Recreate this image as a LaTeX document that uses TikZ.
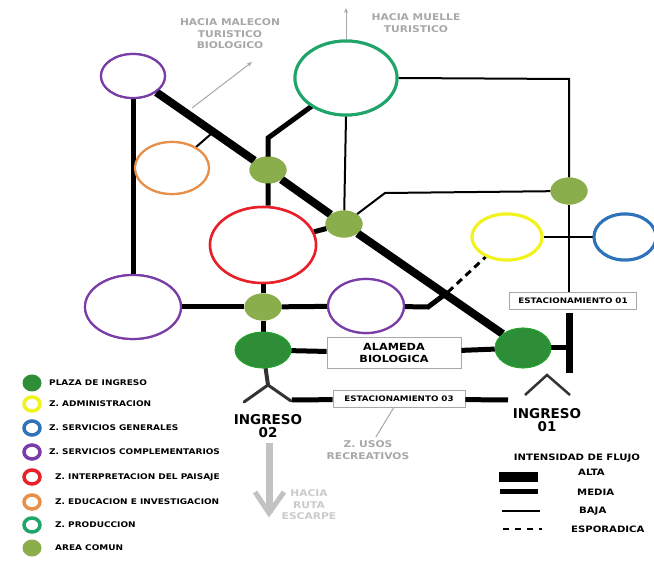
\documentclass[tikz,border=0pt]{standalone}
\usepackage{fontspec}
\setmainfont{DejaVu Sans}
\newfontfamily\lbl[FakeStretch=1.15]{DejaVu Sans}
\usetikzlibrary{arrows.meta,shapes.geometric}
\definecolor{cpurple}{HTML}{7A3DA8}
\definecolor{corange}{HTML}{E8904A}
\definecolor{cgreen}{HTML}{1FA46A}
\definecolor{cred}{HTML}{E8202A}
\definecolor{cyellow}{HTML}{F2F21C}
\definecolor{cblue}{HTML}{2E72B8}
\definecolor{cplaza}{HTML}{2E8E38}
\definecolor{ccomun}{HTML}{8AAE4C}
\definecolor{cgray}{HTML}{A8A8A8}
\definecolor{cdark}{HTML}{333333}
\tikzset{
  zone/.style={ellipse, draw, line width=2.5pt, fill=white, inner sep=0pt},
  plaza/.style={ellipse, fill=cplaza, draw=cplaza!70!green, line width=0.6pt, inner sep=0pt},
  comun/.style={ellipse, fill=ccomun, inner sep=0pt, minimum width=37pt, minimum height=27pt},
  alta/.style={line width=8pt},
  media/.style={line width=5pt},
  baja/.style={line width=2pt},
  espo/.style={line width=3pt, dash pattern=on 7pt off 5pt},
  gline/.style={draw=cgray, line width=1pt},
  boxlbl/.style={draw=cgray, line width=0.8pt, fill=white, font=\lbl\bfseries\fontsize{7.6}{9}\selectfont, inner sep=2pt},
  gtext/.style={text=cgray, font=\lbl\bfseries\fontsize{9.3}{11.5}\selectfont, align=center},
  ingtext/.style={font=\bfseries\fontsize{13.5}{15}\selectfont, align=center, text=black},
  legtext/.style={font=\lbl\bfseries\fontsize{7.8}{9}\selectfont, anchor=west, inner sep=0pt},
  rlegtext/.style={font=\lbl\bfseries\fontsize{8.8}{10}\selectfont, anchor=west, inner sep=0pt},
  legdot/.style={ellipse, inner sep=0pt, minimum width=19pt, minimum height=17pt},
}
\begin{document}
\begin{tikzpicture}[x=1pt,y=-1pt]
\useasboundingbox[fill=white] (0,0) rectangle (654,561);
% zones
\node[zone, draw=cpurple, line width=2.2pt, minimum width=64pt, minimum height=44pt] (pt) at (133,76) {};
\node[zone, draw=corange, line width=2.2pt, minimum width=74pt, minimum height=52pt] (or) at (172,168) {};
\node[zone, draw=cgreen, line width=3pt, minimum width=102pt, minimum height=74pt] (gr) at (346,78) {};
\node[zone, draw=cred, line width=2.5pt, minimum width=106pt, minimum height=76pt] (rd) at (263,245) {};
\node[zone, draw=cpurple, line width=2.2pt, minimum width=96pt, minimum height=64pt] (pl) at (133,307) {};
\node[zone, draw=cpurple, line width=2.2pt, minimum width=76pt, minimum height=54pt] (pm) at (366,306) {};
\node[zone, draw=cyellow, line width=3pt, minimum width=70pt, minimum height=46pt] (ye) at (507,237) {};
\node[zone, draw=cblue, line width=3pt, minimum width=62pt, minimum height=46pt] (bl) at (625,237) {};
% nodes
\node[comun] (a1) at (268,170) {};
\node[comun] (a2) at (344,224) {};
\node[comun] (a3) at (569,191) {};
\node[comun] (a4) at (263,307) {};
\node[plaza, minimum width=56pt, minimum height=36pt] (p1) at (263,350) {};
\node[plaza, minimum width=56pt, minimum height=40pt] (p2) at (523,348) {};
\node[boxlbl, font=\lbl\bfseries\fontsize{9.8}{11.5}\selectfont, align=center, minimum width=134pt, minimum height=31pt] (alam) at (394,353) {ALAMEDA\\BIOLOGICA};
\node[boxlbl, minimum width=132pt, minimum height=17pt] (e03) at (399,399) {ESTACIONAMIENTO 03};
\node[boxlbl, minimum width=127pt, minimum height=17pt] (e01) at (573,301) {ESTACIONAMIENTO 01};
\coordinate (c1) at (268,138);
\coordinate (c1a) at (312,106);
\coordinate (c2) at (385,193);
\coordinate (c3) at (569,79);
\coordinate (c4) at (428,307);
\coordinate (c5) at (448,292);
\coordinate (c6) at (569,313);
\coordinate (c7) at (569,373);
\coordinate (c8) at (268,385);
\coordinate (c9) at (244,402);
\coordinate (c10) at (291,401);
\coordinate (c11) at (292,400);
\coordinate (c12) at (508,400);
\coordinate (i1) at (547,375);
\coordinate (i1l) at (525,395);
\coordinate (i1r) at (570,395);
\coordinate (gm1) at (192,108);
\coordinate (gm2) at (252,62);
\coordinate (gu) at (346,8);
\coordinate (od) at (211,134);
\coordinate (rar1) at (269,443);
\coordinate (rar2) at (269,513);
% thin (baja) connectors
\draw[baja] (gr.east) -- (c3) -- (a3);
\draw[baja] (a3) -- (e01.north -| a3);
\draw[baja] (gr.south) -- (a2);
\draw[baja] (a2) -- (c2) -- (a3);
\draw[baja] (ye) -- (bl);
\draw[baja] (or) -- (od);
% media
\draw[media] (pt) -- (pl);
\draw[media] (c1a) -- (c1) -- (rd.north -| c1);
\draw[media] (rd) -- (a2);
\draw[media] (rd) -- (a4);
\draw[media] (a4) -- (p1);
\draw[media] (pl) -- (a4);
\draw[media] (a4) -- (pm);
\draw[media] (pm) -- (c4) -- (c5);
\draw[espo] (c5) -- (ye);
\draw[media] (p1) -- (alam);
\draw[media] (alam) -- (p2);
\draw[media] (p2) -- (c6 |- p2);
\draw[alta, line width=7pt] (c6) -- (c7);
\draw[media] (c11) -- (e03);
\draw[media] (e03) -- (c12);
% alta diagonal
\draw[alta] (pt) -- (a1) -- (a2) -- (p2);
% redraw nodes on top
\node[comun] at (a1) {};
\node[comun] at (a2) {};
\node[comun] at (a3) {};
\node[comun] at (a4) {};
\node[plaza, minimum width=56pt, minimum height=36pt] at (p1) {};
\node[plaza, minimum width=56pt, minimum height=40pt] at (p2) {};
\node[zone, draw=cpurple, line width=2.2pt, minimum width=64pt, minimum height=44pt] at (pt) {};
\node[zone, draw=cpurple, line width=2.2pt, minimum width=96pt, minimum height=64pt] at (pl) {};
\node[zone, draw=cpurple, line width=2.2pt, minimum width=76pt, minimum height=54pt] at (pm) {};
\node[zone, draw=cred, line width=2.5pt, minimum width=106pt, minimum height=76pt] at (rd) {};
\node[zone, draw=cyellow, line width=3pt, minimum width=70pt, minimum height=46pt] at (ye) {};
\node[zone, draw=cblue, line width=3pt, minimum width=62pt, minimum height=46pt] at (bl) {};
\node[zone, draw=cgreen, line width=3pt, minimum width=102pt, minimum height=74pt] at (gr) {};
\node[zone, draw=corange, line width=2.2pt, minimum width=74pt, minimum height=52pt] at (or) {};
% entrances
\draw[draw=cdark, line width=4pt] (p1) -- (c8);
\draw[draw=cdark, line width=3pt, line cap=round] (c9) -- (c8) -- (c10);
\draw[draw=cdark, line width=2.5pt] (i1l) -- (i1) -- (i1r);
\node[ingtext] (ing2) at (268,426) {INGRESO\\[-2pt]02};
\node[ingtext] (ing1) at (547,420) {INGRESO\\[-2pt]01};
% gray arrows and texts
\draw[gline, -{Stealth[length=5pt,width=4pt]}] (gm1) -- (gm2);
\draw[gline, -{Stealth[length=5pt,width=4pt]}] (gr.north) -- (gu);
\node[gtext] (tmal) at (230,34) {HACIA MALECON\\TURISTICO\\BIOLOGICO};
\node[gtext] (tmue) at (416,23) {HACIA MUELLE\\TURISTICO};
\node[gtext] (tuso) at (368,450) {Z. USOS\\RECREATIVOS};
\draw[gline] (e03) -- (tuso);
\draw[draw=cgray!70, line width=7pt] (rar1) -- (rar2);
\draw[draw=cgray!70, line width=5pt] (255,492) -- (rar2) -- (284,492);
\node[gtext, text=cgray!60] (truta) at (309,505) {HACIA\\RUTA\\ESCARPE};
% legend left
\node[legdot, fill=cplaza] (l1) at (32,383) {};
\node[legtext] at (49,383) {PLAZA DE INGRESO};
\node[legdot, draw=cyellow, line width=3.5pt, minimum width=16pt, minimum height=14pt] (l2) at (32,404) {};
\node[legtext] at (49,404) {Z. ADMINISTRACION};
\node[legdot, draw=cblue, line width=3.5pt, minimum width=16pt, minimum height=14pt] (l3) at (32,428) {};
\node[legtext] at (49,428) {Z. SERVICIOS GENERALES};
\node[legdot, draw=cpurple, line width=3.5pt, minimum width=16pt, minimum height=14pt] (l4) at (32,452) {};
\node[legtext] at (49,452) {Z. SERVICIOS COMPLEMENTARIOS};
\node[legdot, draw=cred, line width=3.5pt, minimum width=16pt, minimum height=14pt] (l5) at (32,477) {};
\node[legtext] at (55,477) {Z. INTERPRETACION DEL PAISAJE};
\node[legdot, draw=corange, line width=3.5pt, minimum width=16pt, minimum height=14pt] (l6) at (32,502) {};
\node[legtext] at (55,502) {Z. EDUCACION E INVESTIGACION};
\node[legdot, draw=cgreen, line width=3.5pt, minimum width=16pt, minimum height=14pt] (l7) at (32,525) {};
\node[legtext] at (55,525) {Z. PRODUCCION};
\node[legdot, fill=ccomun] (l8) at (32,548) {};
\node[legtext] at (55,548) {AREA COMUN};
% legend right
\node[rlegtext, anchor=center] (lint) at (577,458) {INTENSIDAD DE FLUJO};
\coordinate (la1) at (499,477); \coordinate (la2) at (538,477);
\coordinate (lm1) at (500,492); \coordinate (lm2) at (538,492);
\coordinate (lb1) at (502,511); \coordinate (lb2) at (540,511);
\coordinate (le1) at (503,529); \coordinate (le2) at (542,529);
\draw[line width=10pt] (la1) -- (la2);
\draw[media] (lm1) -- (lm2);
\draw[line width=2.5pt] (lb1) -- (lb2);
\draw[line width=2.5pt, dash pattern=on 6pt off 6pt] (le1) -- (le2);
\node[rlegtext] at (578,472) {ALTA};
\node[rlegtext] at (577,492) {MEDIA};
\node[rlegtext] at (579,511) {BAJA};
\node[rlegtext] at (571,529) {ESPORADICA};
\end{tikzpicture}
\end{document}
